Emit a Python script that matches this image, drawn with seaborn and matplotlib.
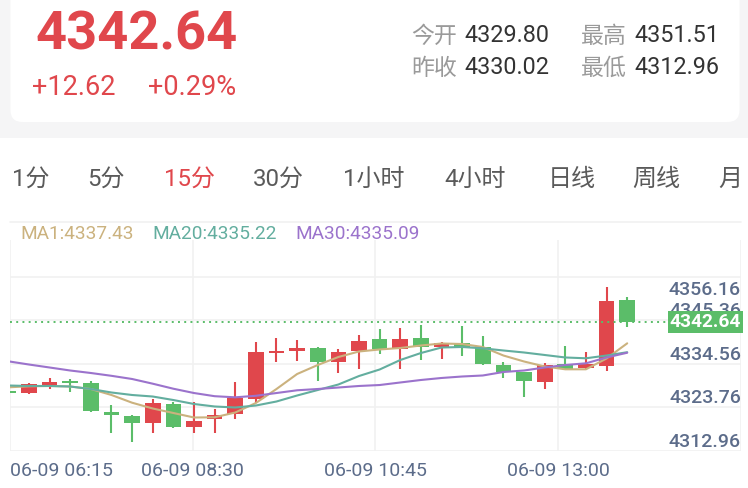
import matplotlib

matplotlib.use("Agg")
import matplotlib.pyplot as plt
import matplotlib.transforms as mtransforms
from matplotlib.patches import FancyBboxPatch, Rectangle
import numpy as np
import pandas as pd
import seaborn as sns

W, H = 748, 488

# header data
LAST_PRICE = 4342.64
CHANGE = "+12.62"
CHANGE_PCT = "+0.29%"
STAT_NAMES = ["今开", "最高", "昨收", "最低"]
STAT_VALUES = ["4329.80", "4351.51", "4330.02", "4312.96"]
TABS = ["1分", "5分", "15分", "30分", "1小时", "4小时", "日线", "周线", "月"]
ACTIVE_TAB = "15分"

# 15-minute candles, 06-09 06:15 onwards
OPEN = [4325.60, 4325.00, 4327.06, 4328.13, 4327.49, 4320.27, 4319.43, 4317.69,
        4322.41, 4316.69, 4318.53, 4319.78, 4323.46, 4334.95, 4335.60, 4336.19,
        4332.71, 4335.52, 4338.51, 4335.95, 4338.68, 4336.59, 4337.44, 4336.52,
        4332.04, 4330.37, 4327.89, 4332.21, 4331.22, 4331.79, 4348.21]
HIGH = [4325.80, 4327.50, 4328.73, 4328.56, 4328.13, 4322.09, 4319.60, 4323.51,
        4322.91, 4322.91, 4321.02, 4327.89, 4337.84, 4338.68, 4338.26, 4336.59,
        4336.02, 4339.58, 4340.92, 4341.32, 4341.99, 4337.84, 4341.74, 4339.25,
        4332.71, 4330.42, 4332.61, 4336.84, 4335.35, 4351.51, 4349.03]
LOW = [4324.90, 4324.80, 4325.99, 4325.25, 4320.42, 4315.20, 4312.96, 4315.20,
       4316.37, 4315.05, 4315.05, 4318.61, 4322.51, 4332.86, 4333.03, 4328.13,
       4329.97, 4330.97, 4334.78, 4330.97, 4333.28, 4333.46, 4334.28, 4332.16,
       4328.73, 4324.00, 4326.07, 4330.80, 4331.04, 4330.55, 4341.57]
CLOSE = [4325.10, 4327.24, 4327.74, 4327.56, 4320.60, 4319.68, 4317.69, 4322.51,
         4316.62, 4318.18, 4319.60, 4323.91, 4335.20, 4335.52, 4336.19, 4332.71,
         4335.20, 4338.08, 4335.95, 4338.51, 4336.59, 4337.44, 4336.44, 4332.21,
         4330.37, 4328.06, 4332.04, 4331.04, 4332.21, 4348.03, 4342.64]

MA1 = [4326.49, 4326.74, 4326.82, 4326.69, 4326.07, 4324.58, 4322.66, 4321.22,
       4320.10, 4318.98, 4319.03, 4320.22, 4322.59, 4326.07, 4329.80, 4332.04,
       4334.03, 4335.40, 4335.90, 4336.27, 4336.89, 4337.39, 4337.26, 4336.52,
       4334.40, 4332.91, 4331.67, 4330.97, 4330.97, 4333.66, 4337.43]
MA20 = [4326.94, 4326.82, 4326.82, 4326.69, 4326.07, 4325.20, 4324.58, 4324.20,
        4323.33, 4322.34, 4321.72, 4321.47, 4321.96, 4322.96, 4324.45, 4325.82,
        4327.19, 4329.30, 4330.92, 4333.28, 4335.02, 4336.39, 4336.52, 4336.19,
        4335.65, 4335.15, 4334.53, 4333.91, 4333.71, 4334.40, 4335.22]
MA30 = [4332.96, 4332.16, 4331.42, 4330.67, 4330.05, 4329.35, 4328.56, 4327.39,
        4326.14, 4325.07, 4324.28, 4324.00, 4324.38, 4325.07, 4325.75, 4326.07,
        4326.44, 4326.82, 4327.06, 4327.69, 4328.31, 4328.81, 4329.18, 4329.43,
        4330.30, 4330.67, 4331.42, 4332.04, 4332.46, 4333.91, 4335.09]
MA_LABELS = ["MA1:4337.43", "MA20:4335.22", "MA30:4335.09"]

Y_LABELS = ["4356.16", "4345.36", "4334.56", "4323.76", "4312.96"]
X_LABELS = ["06-09 06:15", "06-09 08:30", "06-09 10:45", "06-09 13:00"]

RED = "#e0474c"
GREEN = "#5bbd69"
MA_COLORS = ["#cbb27e", "#63ae9f", "#9b73cc"]
AXIS_TEXT = "#5c6c8a"
GRID = "#f1f1f1"


def main() -> None:
    sns.set_theme(style="white")
    plt.rcParams["font.family"] = ["Roboto", "Noto Sans CJK SC", "DejaVu Sans"]

    fig = plt.figure(figsize=(W / 100, H / 100), dpi=100)
    fig.patch.set_facecolor("white")

    # background layer in pixel coordinates
    bg = fig.add_axes([0, 0, 1, 1])
    bg.set_xlim(0, W)
    bg.set_ylim(H, 0)
    bg.axis("off")
    bg.add_patch(Rectangle((0, 0), W, 138, color="#f5f5f6", lw=0))
    bg.add_patch(FancyBboxPatch((10.5, -30), 729, 152, boxstyle="round,pad=0,rounding_size=12",
                                fc="white", ec="none"))

    bg.text(36, 50, f"{LAST_PRICE:.2f}", color=RED, fontsize=39, fontweight="bold", va="baseline")
    bg.text(32, 95, CHANGE, color=RED, fontsize=19.5, va="baseline")
    bg.text(148, 95, CHANGE_PCT, color=RED, fontsize=19.5, va="baseline")
    stat_pos = [(411, 42), (581, 42), (411, 74), (581, 74)]
    for (sx, sy), name, val in zip(stat_pos, STAT_NAMES, STAT_VALUES):
        bg.text(sx, sy + 1, name, color="#9a9a9a", fontsize=16.5, va="baseline")
        bg.text(sx + 53, sy, val, color="#333333", fontsize=16.8, va="baseline")

    tab_x = [12, 87, 164, 253, 343, 444, 548, 632, 718]
    for tx, tab in zip(tab_x, TABS):
        color = RED if tab == ACTIVE_TAB else "#5a5a5a"
        bg.text(tx, 186, tab, color=color, fontsize=17.3, va="baseline")

    bg.plot([10, 741], [221.7, 221.7], color=GRID, lw=1.2)
    legend_x = [20.7, 152, 295]
    for lx, lab, col in zip(legend_x, MA_LABELS, MA_COLORS):
        bg.text(lx, 239, lab, color=col, fontsize=13.7, va="baseline")

    # candle chart
    left, right, top, bottom = 10, 741, 240, 451
    ax = fig.add_axes([left / W, 1 - bottom / H, (right - left) / W, (bottom - top) / H])
    ax.patch.set_alpha(0)
    step = 20.63
    first_center = 8.3
    xlo = (left - first_center) / step
    xhi = (right - first_center) / step
    px_per_pt = 4.02
    ylo = LOW[6] - (bottom - 441.7) / px_per_pt
    yhi = ylo + (bottom - top) / px_per_pt
    ax.set_xlim(xlo, xhi)
    ax.set_ylim(ylo, yhi)
    for s in ax.spines.values():
        s.set_visible(False)
    ax.set_xticks([])
    ax.set_yticks([])

    for k in range(5):
        f = k * 0.2062
        ax.axhline(ylo + f * (yhi - ylo), color=GRID, lw=1.2, zorder=0)
    for k in range(5):
        ax.axvline(xlo + k * 0.25 * (xhi - xlo), color=GRID, lw=1.2, zorder=0)

    df = pd.DataFrame({"open": OPEN, "high": HIGH, "low": LOW, "close": CLOSE})
    df["idx"] = np.arange(len(df))
    up = df["close"] >= df["open"]
    colors = np.where(up, RED, GREEN)
    ax.vlines(df["idx"], df["low"], df["high"], colors=colors, lw=1.5, zorder=2)
    body_low = df[["open", "close"]].min(axis=1)
    body_h = (df["close"] - df["open"]).abs().clip(lower=0.5)
    ax.bar(df["idx"], body_h, bottom=body_low, width=0.76, color=colors, lw=0, zorder=3)

    ma = pd.DataFrame({
        "idx": np.tile(df["idx"], 3),
        "value": MA1 + MA20 + MA30,
        "line": np.repeat(["MA1", "MA20", "MA30"], len(df)),
    })
    sns.lineplot(data=ma, x="idx", y="value", hue="line", palette=MA_COLORS,
                 lw=1.5, legend=False, ax=ax, zorder=4)
    ax.set_xlabel("")
    ax.set_ylabel("")
    ax.set_xlim(xlo, xhi)
    ax.set_ylim(ylo, yhi)

    # last price line and tag
    ax.axhline(LAST_PRICE, xmin=0, xmax=(672 - left) / (right - left), color=GREEN,
               lw=1.4, ls=(0, (1, 2.2)), zorder=5)
    trans = mtransforms.blended_transform_factory(ax.transAxes, ax.transData)
    top_grid = ylo + 4 * 0.2062 * (yhi - ylo)
    for lab in Y_LABELS:
        v = float(lab)
        if v > top_grid:
            ax.annotate(lab, xy=(1, top_grid), xycoords=trans, xytext=(0, -4.5),
                        textcoords="offset pixels", ha="right", va="top",
                        color=AXIS_TEXT, fontsize=14, fontweight="medium", zorder=6)
        else:
            ax.annotate(lab, xy=(1, v), xycoords=trans, ha="right", va="center",
                        color=AXIS_TEXT, fontsize=14, fontweight="medium", zorder=6)
    ax.text(1, LAST_PRICE, f"{LAST_PRICE:.2f}", transform=trans, ha="right", va="center",
            color="white", fontsize=13.8, fontweight="bold", zorder=8,
            bbox=dict(boxstyle="square,pad=0.1", fc=GREEN, ec="none"))

    for k, lab in enumerate(X_LABELS):
        xp = left + k * 0.25 * (right - left)
        bg.text(xp, 476.5, lab, color=AXIS_TEXT, fontsize=14,
                ha="left" if k == 0 else "center", va="baseline")

    fig.savefig("out.png", dpi=100)
    plt.close(fig)


if __name__ == "__main__":
    main()
